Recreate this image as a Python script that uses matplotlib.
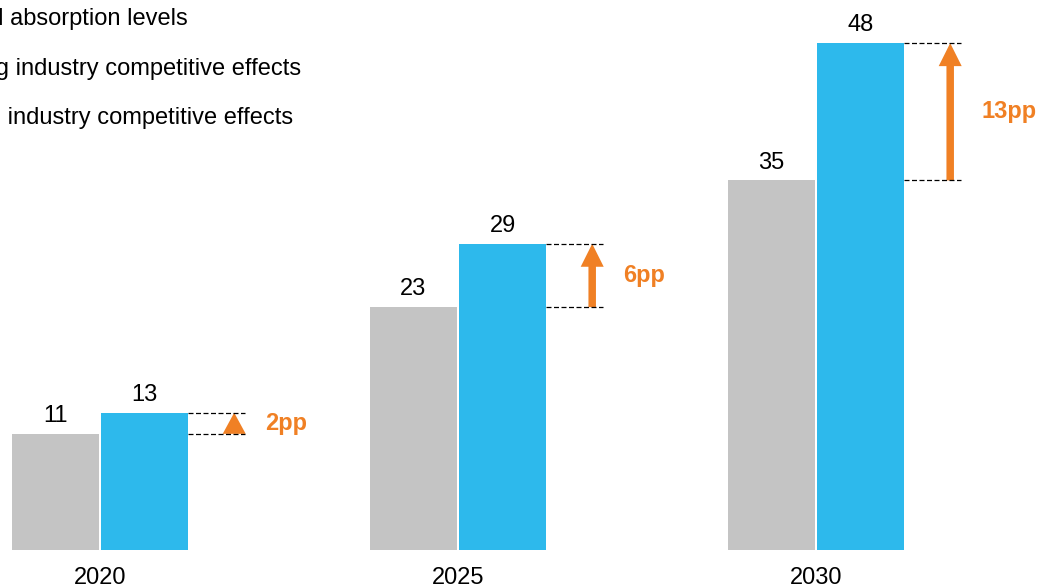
import numpy as np
import matplotlib.pyplot as plt

plt.rcParams['font.family'] = ['Liberation Sans', 'DejaVu Sans']

# 数据
years = ['2020', '2025', '2030']
base_vals = [11, 23, 35]      # 灰色柱
comp_vals = [13, 29, 48]      # 蓝色柱
gap_labels = ['2pp', '6pp', '13pp']
legend_labels = ['Historical absorption levels',
                 'Excluding industry competitive effects',
                 'Including industry competitive effects']

c_gray = '#C4C4C4'
c_blue = '#2DB9EC'
c_orange = '#F08024'

W, H = 1046, 588
fig = plt.figure(figsize=(W / 100, H / 100), dpi=100)
# 坐标轴占满宽度, 底部留给年份标签
ax = fig.add_axes([0, 38 / H, 1, 550 / H])

px_x = 358.0    # 每个 x 单位的像素
px_y = 10.56    # 每个 y 单位的像素
ax.set_xlim(-100 / px_x, (W - 100) / px_x)
ax.set_ylim(0, 550 / px_y)

pos = np.arange(len(years))
w = 87 / px_x
g = 1.2 / px_x

ax.bar(pos - g - w / 2, base_vals, width=w, color=c_gray)
ax.bar(pos + g + w / 2, comp_vals, width=w, color=c_blue)

# 数值标签
for p, b, c in zip(pos, base_vals, comp_vals):
    ax.annotate(str(b), (p - g - w / 2, b), xytext=(0, 8.5), textcoords='offset points',
                ha='center', va='baseline', fontsize=17)
    ax.annotate(str(c), (p + g + w / 2, c), xytext=(0, 8.5), textcoords='offset points',
                ha='center', va='baseline', fontsize=17)

# 差值箭头和虚线
edge = w + g
for p, b, c, lab in zip(pos, base_vals, comp_vals, gap_labels):
    x0 = p + edge
    x1 = x0 + 57 / px_x
    xa = x0 + 46 / px_x
    for yv in (b, c):
        ax.plot([x0, x1], [yv, yv], color='black', lw=0.9, ls=(0, (4, 2)))
    dy = c - b
    hl = min(23 / px_y, dy)
    ax.arrow(xa, b, 0, dy, width=7.5 / px_x, head_width=23 / px_x, head_length=hl,
             length_includes_head=True, color=c_orange, lw=0)
    ax.text(x0 + 77 / px_x, (b + c) / 2, lab, ha='left', va='center',
            fontsize=17, fontweight='bold', color=c_orange)

ax.set_xticks(pos)
ax.set_xticklabels(years, fontsize=17)
ax.tick_params(axis='x', length=0, pad=12)
ax.set_yticks([])
for s in ax.spines.values():
    s.set_visible(False)

# 图例 (左侧被裁掉)
for i, lab in enumerate(legend_labels):
    fig.text(-94 / W, 1 - (19 + 49.5 * i) / H, lab, ha='left', va='center', fontsize=17)

fig.savefig('out.png', dpi=100)
